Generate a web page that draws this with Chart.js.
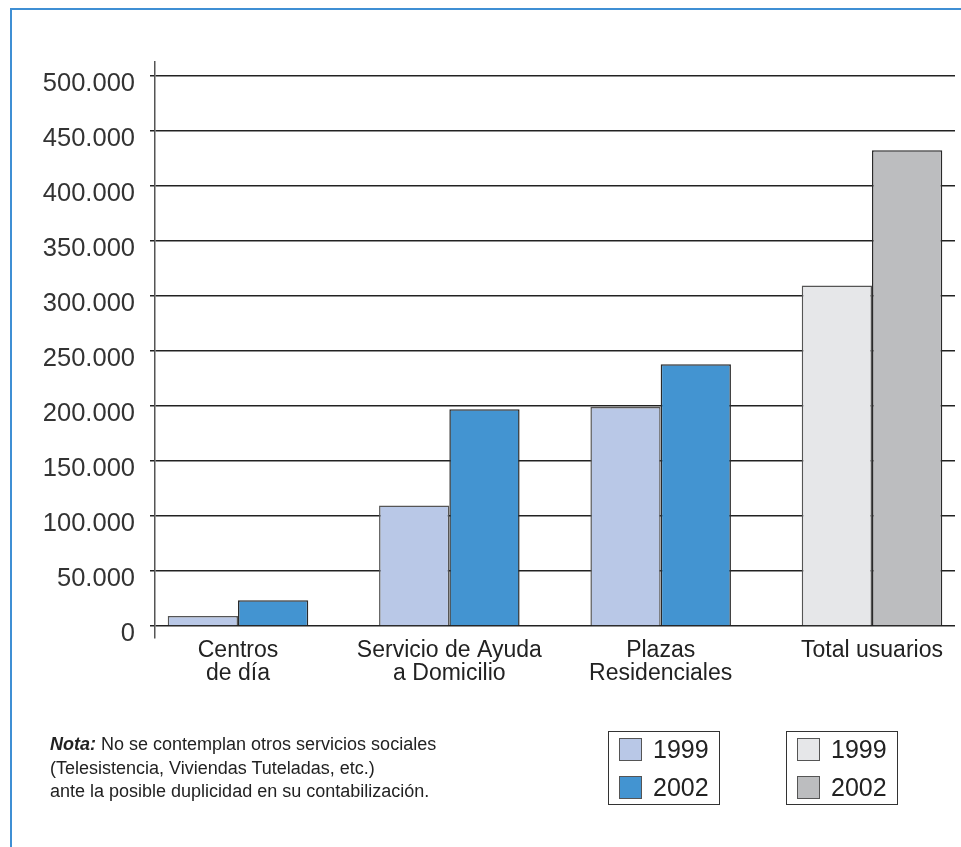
<!DOCTYPE html>
<html>
<head>
<meta charset="utf-8">
<script src="https://cdn.jsdelivr.net/npm/chart.js@4"></script>
<style>
  body { margin: 0; background: #fff; font-family: "Liberation Sans", Arial, sans-serif; color: #222; }
  #wrap { position: relative; width: 961px; height: 847px; overflow: hidden; }
  #frame { position: absolute; left: 10px; top: 8px; width: 980px; height: 900px;
           border-left: 2px solid #3f8fd4; border-top: 2px solid #3f8fd4; }
  #chart { position: absolute; left: 0; top: 0; }
  .note { position: absolute; left: 50px; top: 733px; font-size: 18px; line-height: 23.5px; color: #222; }
  .note b { font-style: italic; }
  .legend { position: absolute; top: 731px; width: 110px; height: 72px; border: 1px solid #333; }
  .row { position: absolute; left: 10px; height: 24px; display: flex; align-items: center; font-size: 25px; color: #222; }
  .sw { width: 21px; height: 21px; border: 1px solid #555; margin-right: 11px; }
</style>
</head>
<body>
<div id="wrap">
  <div id="frame"></div>
  <canvas id="chart" width="961" height="847"></canvas>
  <div class="note">
    <b>Nota:</b> No se contemplan otros servicios sociales<br>
    (Telesistencia, Viviendas Tuteladas, etc.)<br>
    ante la posible duplicidad en su contabilización.
  </div>
  <div id="legends"></div>
</div>
<script>
// Data
const categories = [['Centros', 'de día'], ['Servicio de Ayuda', 'a Domicilio'], ['Plazas', 'Residenciales'], ['Total usuarios']];
const years = ['1999', '2002'];
const values1999 = [9000, 109500, 199000, 309500];
const values2002 = [23500, 197000, 238000, 432500];
const yTicks = [0, 50000, 100000, 150000, 200000, 250000, 300000, 350000, 400000, 450000, 500000];

// Colours
const blue1999 = '#b9c8e7';
const blue2002 = '#4394d1';
const grey1999 = '#e6e7e9';
const grey2002 = '#bcbdbf';
const colors1999 = [blue1999, blue1999, blue1999, grey1999];
const colors2002 = [blue2002, blue2002, blue2002, grey2002];

const fmt = v => String(v).replace(/\B(?=(\d{3})+(?!\d))/g, '.');
const font = '"Liberation Sans", Arial, sans-serif';

new Chart(document.getElementById('chart'), {
    type: 'bar',
    data: {
        datasets: [
            {
                label: years[0],
                data: values1999.map((v, i) => ({ x: i, y: v })),
                backgroundColor: colors1999,
                borderColor: '#555',
                borderWidth: 1.5
            },
            {
                label: years[1],
                data: values2002.map((v, i) => ({ x: i, y: v })),
                backgroundColor: colors2002,
                borderColor: '#2a2a2a',
                borderWidth: 1.5
            }
        ]
    },
    options: {
        responsive: false,
        animation: false,
        categoryPercentage: 0.665,
        barPercentage: 1,
        layout: { padding: { top: 62, right: 6, bottom: 0, left: 0 } },
        plugins: { legend: { display: false }, tooltip: { enabled: false } },
        scales: {
            x: {
                type: 'linear',
                offset: false,
                min: -0.3927,
                max: 3.3927,
                afterBuildTicks: s => { s.ticks = categories.map((c, i) => ({ value: i })); },
                afterFit: s => { s.height = 209; },
                grid: { display: false, drawTicks: false, offset: false },
                border: { display: false },
                ticks: {
                    callback: v => categories[v],
                    autoSkip: false,
                    maxRotation: 0,
                    padding: 1,
                    color: '#222',
                    font: { family: font, size: 23, lineHeight: 1.0 }
                }
            },
            y: {
                min: -10909,
                max: 512727,
                afterBuildTicks: s => { s.ticks = yTicks.map(v => ({ value: v })); },
                afterFit: s => { s.width = 155; },
                grid: { color: '#222', lineWidth: 1.5, tickLength: 5 },
                border: { color: '#555', width: 1.5 },
                ticks: {
                    callback: v => fmt(v),
                    padding: 15,
                    labelOffset: 8,
                    color: '#333',
                    font: { family: font, size: 25.5 }
                }
            }
        }
    }
});

// Two small legend boxes, one for the services, one for the total
const legendSets = [
    { left: 608, colors: [blue1999, blue2002] },
    { left: 786, colors: [grey1999, grey2002] }
];
const holder = document.getElementById('legends');
legendSets.forEach(set => {
    const box = document.createElement('div');
    box.className = 'legend';
    box.style.left = set.left + 'px';
    years.forEach((y, i) => {
        const row = document.createElement('div');
        row.className = 'row';
        row.style.top = (5 + i * 38) + 'px';
        row.innerHTML = '<span class="sw" style="background:' + set.colors[i] + '"></span>' + y;
        box.appendChild(row);
    });
    holder.appendChild(box);
});
</script>
</body>
</html>
